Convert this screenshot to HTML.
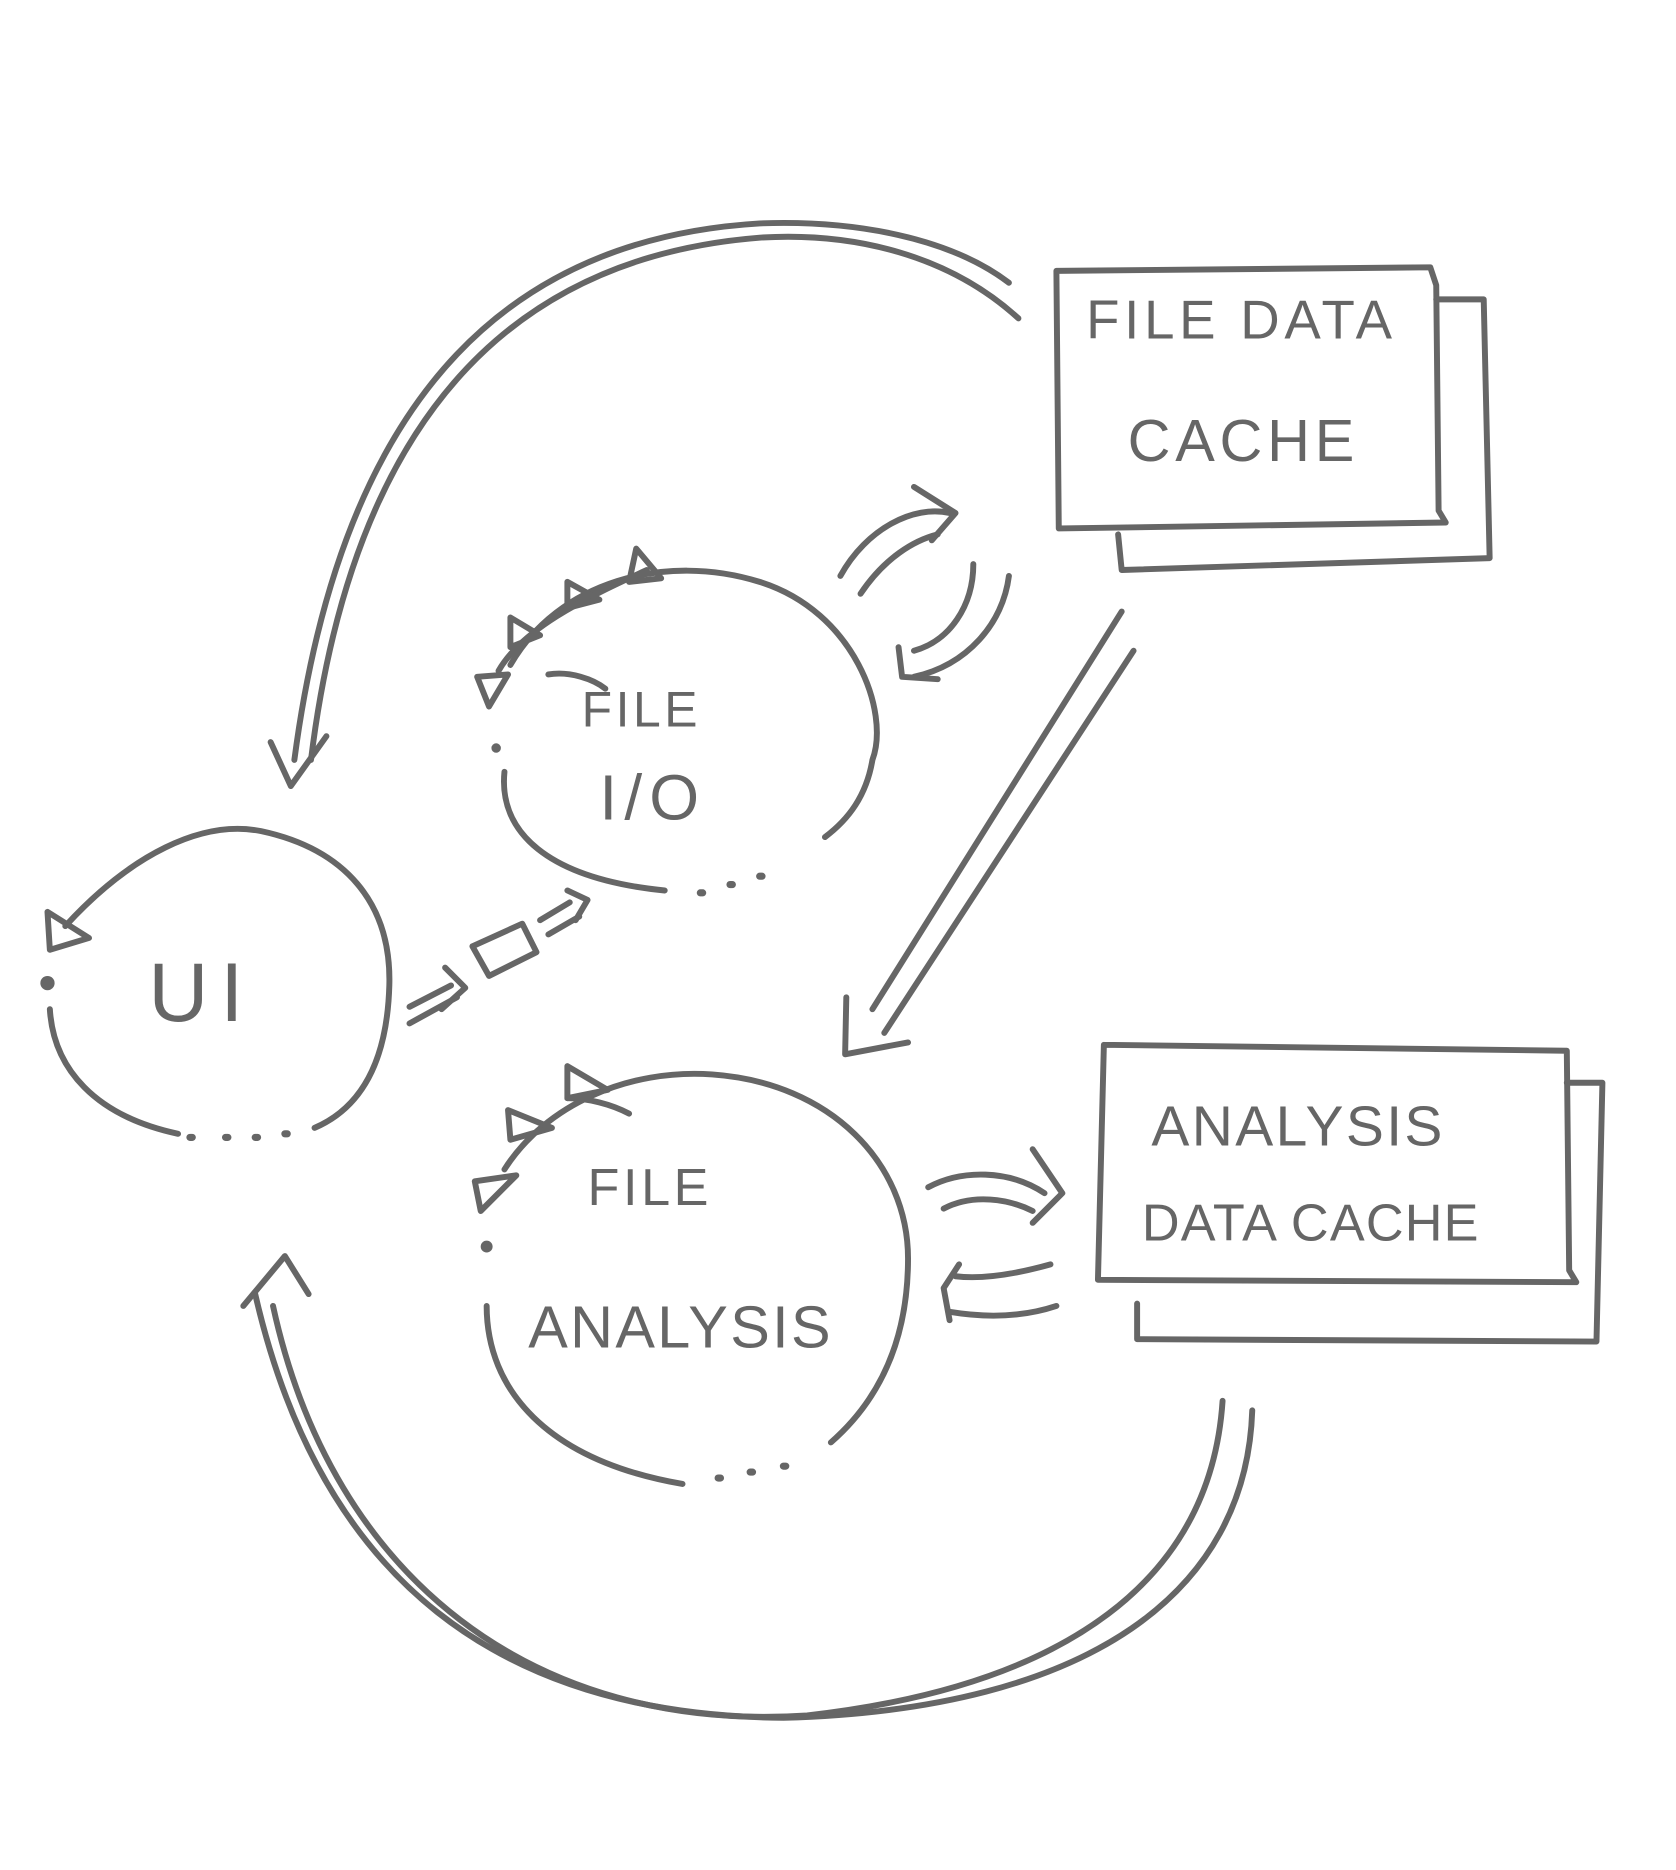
<!DOCTYPE html>
<html><head><meta charset="utf-8"><style>
html,body{margin:0;padding:0;background:#fff;}
svg{display:block}
text{font-family:"Liberation Sans",sans-serif;fill:#666;}
</style></head><body>
<svg width="1676" height="1870" viewBox="0 0 1412 1575" xmlns="http://www.w3.org/2000/svg">
<g fill="none" stroke="#666" stroke-width="5" stroke-linecap="round" stroke-linejoin="round">
<path d="M55,780 C110,720 170,690 220,700 C290,715 330,760 328,830 C326,900 300,935 265,950"/>
<path d="M42,850 C45,900 80,940 150,955"/>
<path d="M160,958 h2 M190,958 h2 M215,958 h2 M240,955 h2" stroke-width="6"/>
<path d="M40,768 L42,800 L75,790 Z"/>
<path d="M430,560 C470,490 560,465 640,490 C720,515 750,600 735,640 C730,670 715,690 695,705"/>
<path d="M425,650 C420,700 460,740 560,750"/>
<path d="M590,752 h2 M615,745 h2 M640,738 h2" stroke-width="6"/>
<path d="M420,565 C440,530 490,505 545,480"/>
<path d="M402,570 L412,595 L428,568 Z"/>
<path d="M430,520 L430,545 L455,535 Z"/>
<path d="M478,490 L478,512 L505,505 Z"/>
<path d="M536,462 L530,490 L557,487 Z"/>
<path d="M462,568 C480,565 500,572 510,580"/>
<path d="M425,985 C460,930 530,900 600,905 C700,912 765,980 765,1060 C765,1130 740,1180 700,1215"/>
<path d="M410,1100 C410,1170 460,1230 575,1250"/>
<path d="M605,1245 h2 M632,1240 h2 M660,1235 h2" stroke-width="6"/>
<path d="M400,995 L405,1020 L435,990 Z"/>
<path d="M428,935 L430,960 L465,950 Z"/>
<path d="M478,898 L478,925 L512,918 Z"/>
<path d="M478,925 C495,925 515,930 530,938"/>
<circle cx="40" cy="828" r="6" fill="#666" stroke="none"/>
<circle cx="418" cy="630" r="4" fill="#666" stroke="none"/>
<circle cx="410" cy="1050" r="5" fill="#666" stroke="none"/>
<path d="M345,848 L380,830 M345,862 L385,840 M375,815 L392,832 L372,850"/>
<path d="M398,797 L440,778 L452,802 L412,822 Z"/>
<path d="M455,775 L480,760 M462,787 L488,772 M478,750 L495,758 L485,775"/>
<path d="M890,228 L1205,225 L1210,240 L1212,430 L1218,440 L892,445 L890,228"/>
<path d="M1210,252 L1250,252 L1255,470 L945,480 L942,450"/>
<path d="M930,880 L1320,885 L1322,1070 L1328,1080 L925,1078 L930,880"/>
<path d="M1320,912 L1350,912 L1345,1130 L958,1128 L958,1098"/>
<path d="M858,268 C800,215 720,195 640,200 C450,215 300,330 262,640"/>
<path d="M850,238 C800,200 720,185 640,188 C440,200 290,320 248,640"/>
<path d="M228,625 L245,662 L275,620"/>
<path d="M708,485 C730,445 770,425 800,432 M725,500 C745,470 770,455 790,450"/>
<path d="M770,410 L805,432 L785,455"/>
<path d="M820,475 C820,510 800,540 770,548 M850,485 C845,525 815,560 770,570"/>
<path d="M757,545 L760,570 L790,572"/>
<path d="M945,515 L735,850 M955,548 L745,870"/>
<path d="M713,840 L712,888 L765,878"/>
<path d="M782,1000 C810,985 850,985 880,1005 M795,1018 C820,1005 850,1010 870,1020"/>
<path d="M870,968 L895,1005 L870,1030"/>
<path d="M885,1065 C860,1072 830,1078 805,1075 M890,1100 C860,1110 830,1110 800,1105"/>
<path d="M808,1065 L795,1085 L800,1112"/>
<path d="M1030,1180 C1020,1330 900,1420 680,1445 C450,1460 280,1330 230,1100"/>
<path d="M1055,1188 C1050,1340 920,1440 660,1447 C420,1445 270,1330 215,1090"/>
<path d="M205,1100 L240,1058 L260,1090"/>
</g>
<text x="915" y="285" font-size="46" letter-spacing="4">FILE DATA</text>
<text x="950" y="388" font-size="50" letter-spacing="4">CACHE</text>
<text x="490" y="612" font-size="42" letter-spacing="3">FILE</text>
<text x="505" y="690" font-size="54" letter-spacing="6">I/O</text>
<text x="125" y="860" font-size="70" letter-spacing="10">UI</text>
<text x="495" y="1015" font-size="44" letter-spacing="3">FILE</text>
<text x="445" y="1135" font-size="50" letter-spacing="2">ANALYSIS</text>
<text x="970" y="965" font-size="48" letter-spacing="2">ANALYSIS</text>
<text x="962" y="1045" font-size="44" letter-spacing="1">DATA CACHE</text>
</svg>
</body></html>
